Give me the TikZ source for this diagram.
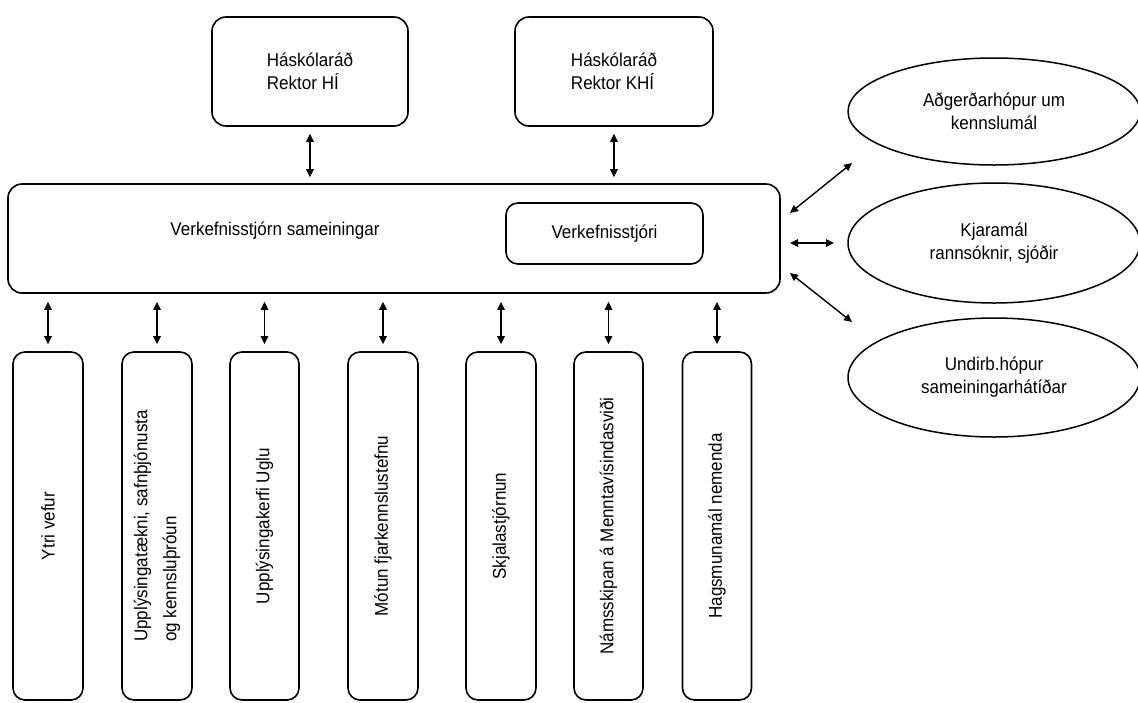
\documentclass[tikz,border=0pt]{standalone}
\usepackage{fontspec}
\setmainfont{Liberation Sans}[FakeStretch=0.92]
\usetikzlibrary{arrows.meta,shapes.geometric}
\begin{document}
\begin{tikzpicture}[x=1pt,y=-1pt,
  font=\fontsize{18.5}{23}\selectfont,
  box/.style={draw, line width=1.6pt, rounded corners=14pt, inner sep=0pt},
  vbox/.style={box, rotate=90, rounded corners=12pt, minimum width=348pt, minimum height=70pt, align=left},
  oval/.style={draw, ellipse, line width=1.5pt, inner sep=0pt, minimum width=292pt, align=center},
  dbl/.style={{Triangle[length=8pt,width=7.5pt]}-{Triangle[length=8pt,width=7.5pt]}, line width=1.4pt}]
\useasboundingbox (0,0) rectangle (1138,702);

% top boxes
\node[box, minimum width=196pt, minimum height=109pt, align=left] (hi) at (310,71.5) {Háskólaráð\\Rektor HÍ};
\node[box, minimum width=198pt, minimum height=109pt, align=left] (khi) at (614,71.5) {Háskólaráð\\Rektor KHÍ};

% main box
\node[box, minimum width=772pt, minimum height=109pt] (main) at (394,238.5) {};
\node (mainlbl) at (275,231) {Verkefnisstjórn sameiningar};
\node[box, rounded corners=12pt, minimum width=197pt, minimum height=61pt] (vs) at (604.5,233.5) {Verkefnisstjóri};

% ellipses
\node[oval, minimum height=107pt] (e1) at (994,111.5) {Aðgerðarhópur um\\kennslumál};
\node[oval, minimum height=120pt] (e2) at (994,243) {Kjaramál\\rannsóknir, sjóðir};
\node[oval, minimum height=119pt] (e3) at (994,377.5) {Undirb.hópur\\sameiningarhátíðar};

% bottom boxes
\node[vbox] (b1) at (48,526) {Ytri vefur};
\node[vbox, font=\fontsize{18.5}{29}\selectfont] (b2) at (157,526) {Upplýsingatækni, safnþjónusta\\og kennsluþróun};
\node[vbox, minimum height=69pt] (b3) at (264.5,526) {Upplýsingakerfi Uglu};
\node[vbox] (b4) at (383,526) {Mótun fjarkennslustefnu};
\node[vbox] (b5) at (501,526) {Skjalastjórnun};
\node[vbox, minimum height=69pt] (b6) at (608.5,526) {Námsskipan á Menntavísindasviði};
\node[vbox, minimum height=69pt] (b7) at (717,526) {Hagsmunamál nemenda};

% top arrows
\draw[dbl, shorten <=7pt, shorten >=6pt] (hi.south) -- (hi.south |- main.north);
\draw[dbl, shorten <=7pt, shorten >=6pt] (khi.south) -- (khi.south |- main.north);

% bottom arrows
\foreach \b in {b1,b2,b3,b4,b5,b6,b7}
  \draw[dbl, shorten <=8pt, shorten >=7pt] (\b.east |- main.south) -- (\b.east);

% right arrows
\coordinate (r1a) at (790,213);
\coordinate (r1b) at (852,163);
\coordinate (r2a) at (790,243);
\coordinate (r2b) at (834,243);
\coordinate (r3a) at (790,273);
\coordinate (r3b) at (852,322);
\draw[dbl] (r1a) -- (r1b);
\draw[dbl] (r2a) -- (r2b);
\draw[dbl] (r3a) -- (r3b);
\end{tikzpicture}
\end{document}
